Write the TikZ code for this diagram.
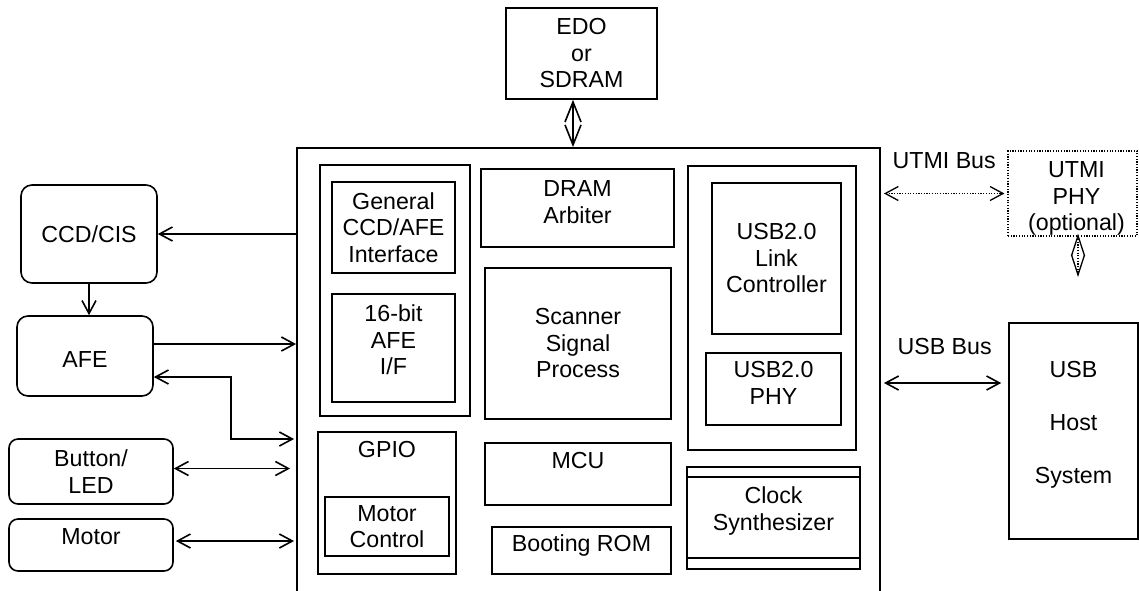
\documentclass[tikz,border=0pt]{standalone}
\usepackage{fontspec}
\setmainfont{Liberation Sans}
\usetikzlibrary{arrows.meta,positioning}

\tikzset{
  blk/.style={draw, line width=1.6pt, inner sep=2pt, align=center},
  rblk/.style={blk, rounded corners=11pt},
  dblk/.style={draw, line width=1.2pt, dash pattern=on 1.2pt off 1.5pt, inner sep=2pt, align=center},
  arrow/.style={line width=1.6pt, -{Straight Barb[length=13pt,width=14pt]}},
  biarrow/.style={line width=1.6pt, {Straight Barb[length=13pt,width=14pt]}-{Straight Barb[length=13pt,width=14pt]}},
  longbiarrow/.style={line width=1.6pt, {Straight Barb[length=20pt,width=16pt]}-{Straight Barb[length=20pt,width=16pt]}},
  dotbiarrow/.style={line width=1.3pt, dash pattern=on 1.2pt off 1.5pt, {Straight Barb[length=13pt,width=14pt]}-{Straight Barb[length=13pt,width=14pt]}},
}

\begin{document}
\begin{tikzpicture}[x=1pt, y=-1pt, every node/.style={font=\fontsize{23.2}{26.5}\selectfont, align=center}]
\useasboundingbox (0,0) rectangle (1139,590);
\clip (0,0) rectangle (1139,590);

% scanner chip
\node[blk, line width=1.9pt, minimum width=583pt, minimum height=472pt] (chip) at (588.5,384) {};

% outside the chip
\node[blk, minimum width=151pt, minimum height=91pt] (edo) at (581.5,53.5) {EDO\\or\\SDRAM};
\node[rblk, minimum width=136pt, minimum height=98pt] (ccd) at (89,234) {CCD/CIS};
\node[rblk, minimum width=136pt, minimum height=80pt, label={[yshift=-4pt]center:AFE}] (afe) at (85,356) {};
\node[rblk, rounded corners=9pt, minimum width=164pt, minimum height=65pt] (btn) at (91,471.5) {Button/\\LED};
\node[rblk, rounded corners=9pt, minimum width=164pt, minimum height=52pt, label={[yshift=8pt]center:Motor}] (motor) at (91,545) {};
\node[dblk, minimum width=129pt, minimum height=85pt, label={[xshift=4pt,yshift=-5pt]center:UTMI\\PHY\\(optional)}] (utmi) at (1072.5,193.5) {};
\node[blk, minimum width=129pt, minimum height=216pt, label={[yshift=6pt]center:USB\\[26.5pt]Host\\[26.5pt]System}] (host) at (1073.5,431) {};

% inside the chip
\node[blk, minimum width=150pt, minimum height=251pt] (ccdcol) at (395,290.5) {};
\node[blk, minimum width=123pt, minimum height=91pt] (gen) at (393.5,227.5) {General\\CCD/AFE\\Interface};
\node[blk, minimum width=123pt, minimum height=108pt, label={[yshift=8pt]center:16-bit\\AFE\\I/F}] (afeif) at (393.5,348) {};
\node[blk, minimum width=193pt, minimum height=78pt, label={[yshift=6pt]center:DRAM\\Arbiter}] (dram) at (577.5,208) {};
\node[blk, minimum width=186pt, minimum height=151pt] (ssp) at (578,343.5) {Scanner\\Signal\\Process};
\node[blk, minimum width=168pt, minimum height=284pt] (usbcol) at (772,308) {};
\node[blk, minimum width=129pt, minimum height=151pt] (link) at (776.5,258.5) {USB2.0\\Link\\Controller};
\node[blk, minimum width=135pt, minimum height=72pt, label={[yshift=6pt]center:USB2.0\\PHY}] (uphy) at (773.5,389) {};
\node[blk, minimum width=138pt, minimum height=142pt, label={[yshift=53pt]center:GPIO}] (gpio) at (387,503) {};
\node[blk, minimum width=124pt, minimum height=59pt] (motc) at (387,526.5) {Motor\\Control};
\node[blk, minimum width=186pt, minimum height=62pt, label={[yshift=13pt]center:MCU}] (mcu) at (578,474) {};
\node[blk, minimum width=179pt, minimum height=47pt, label={[yshift=5pt]center:Booting ROM}] (rom) at (581.5,550.5) {};
\node[blk, minimum width=173pt, minimum height=102pt, label={[yshift=7pt]center:Clock\\Synthesizer}] (clk) at (773.5,518) {};
\draw[line width=1.6pt] ([yshift=-11pt]clk.north west) -- ([yshift=-11pt]clk.north east);
\draw[line width=1.6pt] ([yshift=12pt]clk.south west) -- ([yshift=12pt]clk.south east);

% connector ends
\coordinate (edoend) at ([xshift=-8.5pt]edo.south);
\coordinate (afeout) at ([yshift=12pt]afe.east);
\coordinate (afein) at ([yshift=-21pt]afe.east);
\coordinate (tap) at (231,439);
\coordinate (btnend) at ([yshift=3pt]btn.east);
\coordinate (motorend) at ([yshift=4pt]motor.east);
\coordinate (usbend) at ([yshift=48pt]host.west);
\coordinate (phytop) at ([xshift=5.5pt,yshift=3pt]utmi.south);
\coordinate (phyend) at (1078,277);

\draw[longbiarrow] (edoend) -- (edoend |- chip.north);
\draw[arrow] (chip.west |- ccd.east) -- (ccd.east);
\draw[arrow] (ccd.south) -- (ccd.south |- afe.north);
\draw[arrow] (afeout) -- (afeout -| chip.west);
\draw[biarrow, shorten >=2pt] (afein) -| (tap) -- (tap -| chip.west);
\draw[biarrow, shorten >=6pt] (btnend) -- (btnend -| chip.west);
\draw[biarrow, shorten <=2pt, shorten >=2pt] (motorend) -- (motorend -| chip.west);

\draw[dotbiarrow, shorten <=3pt, shorten >=3pt] (chip.east |- utmi.west) -- (utmi.west) node[midway, yshift=33pt] {UTMI Bus};
\draw[dotbiarrow, {Straight Barb[length=20pt,width=13pt]}-{Straight Barb[length=20pt,width=13pt]}] (phytop) -- (phyend);
\draw[biarrow, shorten <=3pt, shorten >=7pt] (chip.east |- usbend) -- (usbend) node[midway, yshift=36pt] {USB Bus};
\end{tikzpicture}
\end{document}
